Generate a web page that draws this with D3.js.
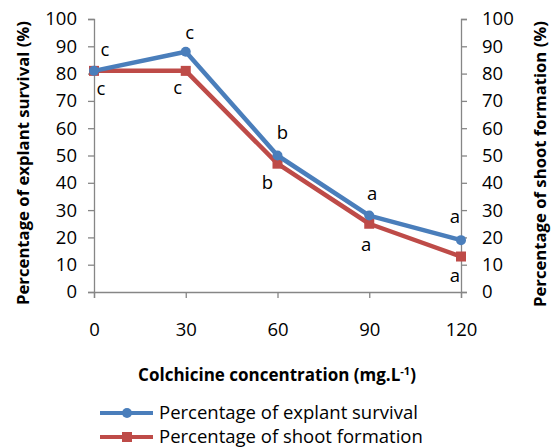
<!DOCTYPE html>
<html>
<head>
<meta charset="utf-8">
<script src="https://cdn.jsdelivr.net/npm/d3@7"></script>
<style>
  body { margin: 0; background: #fff; }
  svg { font-family: "Open Sans", sans-serif; }
</style>
</head>
<body>
<div id="chart"></div>
<script>
// data
const concentrations = [0, 30, 60, 90, 120];
const survival = [81, 88, 50, 28, 19];
const shoots = [81, 81, 47, 25, 13];
const survivalLetters = ["c", "c", "b", "a", "a"];
const shootLetters = ["c", "c", "b", "a", "a"];
const yTicks = [0, 10, 20, 30, 40, 50, 60, 70, 80, 90, 100];

const width = 555, height = 448;
const svg = d3.select("#chart").append("svg")
    .attr("width", width)
    .attr("height", height);

const x = d3.scaleLinear().domain([0, 120]).range([94, 461]);
const y = d3.scaleLinear().domain([0, 100]).range([292, 19]);
const axisColor = "#868686";
const fs = 18.5;

// left axis
const left = svg.append("g")
    .attr("transform", "translate(94,0)")
    .call(d3.axisLeft(y).tickValues(yTicks).tickSize(6).tickPadding(5));
// right axis
const right = svg.append("g")
    .attr("transform", "translate(461,0)")
    .call(d3.axisRight(y).tickValues(yTicks).tickSize(6).tickPadding(15));
// bottom axis
const bottom = svg.append("g")
    .attr("transform", "translate(0,292)")
    .call(d3.axisBottom(x).tickValues(concentrations).tickSize(6).tickPadding(22));

[left, right, bottom].forEach(g => {
    g.select(".domain").attr("stroke", axisColor).attr("stroke-width", 1.3);
    g.selectAll(".tick line").attr("stroke", axisColor).attr("stroke-width", 1.3);
    g.selectAll(".tick text")
        .attr("font-family", "'Open Sans', sans-serif")
        .attr("font-size", fs)
        .attr("fill", "#000");
});
left.selectAll(".tick text").attr("x", -17);
bottom.selectAll(".tick text").attr("dy", "0.85em");

// axis titles
svg.append("text")
    .attr("transform", "translate(29,163) rotate(-90)")
    .attr("text-anchor", "middle")
    .attr("font-weight", "bold")
    .attr("font-size", 16.7)
    .text("Percentage of explant survival  (%)");

svg.append("text")
    .attr("transform", "translate(546,164) rotate(-90)")
    .attr("text-anchor", "middle")
    .attr("font-weight", "bold")
    .attr("font-size", 16.7)
    .text("Percentage of shoot formation (%)");

const xTitle = svg.append("text")
    .attr("x", 277)
    .attr("y", 381)
    .attr("text-anchor", "middle")
    .attr("font-weight", "bold")
    .attr("font-size", 17);
xTitle.append("tspan").text("Colchicine concentration (mg.L");
xTitle.append("tspan").attr("dy", -6).attr("font-size", 11).text("-1");
xTitle.append("tspan").attr("dy", 6).text(")");

const blue = "#4a7ebb";
const red = "#be4b48";
const line = d3.line().x((d, i) => x(concentrations[i])).y(d => y(d));

// shoot formation series
svg.append("path")
    .datum(shoots)
    .attr("fill", "none")
    .attr("stroke", red)
    .attr("stroke-width", 4.5)
    .attr("stroke-linejoin", "round")
    .attr("d", line);
svg.append("g").selectAll("rect")
    .data(shoots)
    .join("rect")
    .attr("x", (d, i) => x(concentrations[i]) - 5)
    .attr("y", d => y(d) - 5)
    .attr("width", 10)
    .attr("height", 10)
    .attr("fill", red);

// explant survival series
svg.append("path")
    .datum(survival)
    .attr("fill", "none")
    .attr("stroke", blue)
    .attr("stroke-width", 4.5)
    .attr("stroke-linejoin", "round")
    .attr("d", line);
svg.append("g").selectAll("circle")
    .data(survival)
    .join("circle")
    .attr("cx", (d, i) => x(concentrations[i]))
    .attr("cy", d => y(d))
    .attr("r", 5)
    .attr("fill", blue);

// significance letters
const survOffsets = [[11, -20], [4, -18], [5, -22], [3, -21], [-6, -23]];
const shootOffsets = [[7, 19], [-8, 18], [-10, 20], [-3, 22], [-6, 20]];
svg.append("g").attr("font-size", fs).selectAll("text")
    .data(survivalLetters)
    .join("text")
    .attr("x", (d, i) => x(concentrations[i]) + survOffsets[i][0])
    .attr("y", (d, i) => y(survival[i]) + survOffsets[i][1])
    .attr("text-anchor", "middle")
    .attr("dy", "0.3em")
    .text(d => d);
svg.append("g").attr("font-size", fs).selectAll("text")
    .data(shootLetters)
    .join("text")
    .attr("x", (d, i) => x(concentrations[i]) + shootOffsets[i][0])
    .attr("y", (d, i) => y(shoots[i]) + shootOffsets[i][1])
    .attr("text-anchor", "middle")
    .attr("dy", "0.3em")
    .text(d => d);

// legend
const legendItems = [
    { name: "Percentage of explant survival", color: blue, shape: "circle" },
    { name: "Percentage of shoot formation", color: red, shape: "square" }
];
const legend = svg.append("g").selectAll("g")
    .data(legendItems)
    .join("g")
    .attr("transform", (d, i) => `translate(100,${413 + i * 24})`);
legend.append("line")
    .attr("x1", 0).attr("x2", 53)
    .attr("stroke", d => d.color)
    .attr("stroke-width", 4);
legend.filter(d => d.shape === "circle").append("circle")
    .attr("cx", 27).attr("r", 5).attr("fill", d => d.color);
legend.filter(d => d.shape === "square").append("rect")
    .attr("x", 22).attr("y", -5).attr("width", 10).attr("height", 10)
    .attr("fill", d => d.color);
legend.append("text")
    .attr("x", 59)
    .attr("dy", "0.35em")
    .attr("font-size", fs)
    .text(d => d.name);
</script>
</body>
</html>
